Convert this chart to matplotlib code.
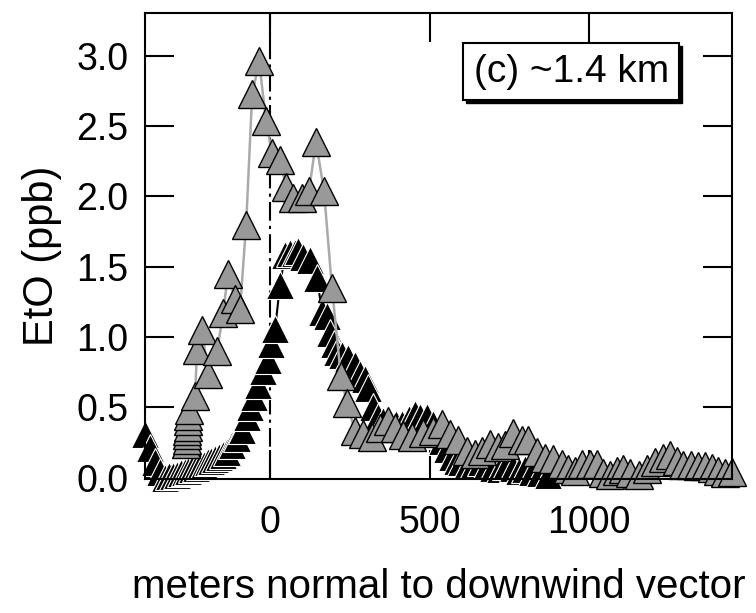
import matplotlib
matplotlib.use("Agg")
import matplotlib.pyplot as plt
from matplotlib.patches import Rectangle

plt.rcParams["font.family"] = ["Liberation Sans", "DejaVu Sans"]

# black series (distance normal to downwind vector, EtO ppb)
black_x = [-392, -376, -360, -345, -329, -316, -304, -292, -280, -268, -256, -244,
           -232, -220, -208, -196, -184, -172, -160, -148, -135, -119, -103, -88,
           -72, -63, -50, -37, -22, -8, 4, 16, 31, 47, 63, 78, 88, 103, 125, 147,
           163, 178, 188, 200, 210, 225, 245, 266, 282, 298, 307, 323, 339, 355,
           375, 395, 414, 435, 455, 470, 492, 510, 525, 540, 555, 570, 585, 600,
           620, 640, 660, 680, 700, 720, 740, 760, 780, 800, 820, 845, 870]
black_y = [0.31, 0.21, 0.11, 0.04, 0.00, 0.01, 0.01, 0.02, 0.03, 0.04, 0.05, 0.06,
           0.07, 0.08, 0.09, 0.11, 0.12, 0.13, 0.15, 0.16, 0.18, 0.23, 0.28, 0.34,
           0.43, 0.50, 0.57, 0.66, 0.76, 0.84, 0.95, 1.06, 1.37, 1.58, 1.60, 1.60, 1.61, 1.57, 1.55, 1.42,
           1.18, 1.15, 1.03, 0.95, 0.89, 0.87, 0.85, 0.80, 0.74, 0.70, 0.64, 0.50, 0.43, 0.40,
           0.39, 0.38, 0.38, 0.42, 0.45, 0.43, 0.43, 0.38, 0.32, 0.26, 0.20, 0.15, 0.12, 0.11,
           0.10, 0.10, 0.11, 0.09, 0.07, 0.06, 0.08, 0.07, 0.05, 0.06, 0.04, 0.03, 0.02]

# gray series
gray_x = [-262, -261, -260, -259, -258, -257, -256, -254, -235, -229, -213, -194,
          -166, -147, -132, -110, -94, -75, -56, -34, -13, 6, 31, 50, 72, 100, 122,
          144, 169, 194, 222, 241, 266, 292, 320, 345, 370, 392, 417, 445, 480, 511,
          539, 564, 589, 617, 643, 664, 690, 715, 737, 762, 789, 809, 836, 862, 887,
          915, 934, 956, 978, 1003, 1025, 1044, 1066, 1088, 1107, 1129, 1155, 1182,
          1207, 1232, 1254, 1276, 1295, 1320, 1342, 1364, 1385, 1404, 1426, 1448]
gray_y = [0.24, 0.27, 0.30, 0.33, 0.36, 0.40, 0.44, 0.48, 0.58, 0.91, 1.05, 0.74,
          0.90, 1.17, 1.45, 1.27, 1.20, 1.80, 2.73, 2.96, 2.54, 2.31, 2.26, 2.07, 1.99, 1.99, 2.04,
          2.39, 2.04, 1.35, 0.72, 0.53, 0.33, 0.31, 0.29, 0.35, 0.40, 0.35, 0.30, 0.29, 0.32, 0.33,
          0.38, 0.31, 0.27, 0.19, 0.17, 0.19, 0.24, 0.22, 0.23, 0.32, 0.27, 0.27, 0.18, 0.14, 0.13,
          0.10, 0.06, 0.05, 0.10, 0.10, 0.10, 0.03, 0.02, 0.05, 0.06, 0.03, 0.02, 0.06,
          0.11, 0.14, 0.16, 0.12, 0.09, 0.09, 0.08, 0.08, 0.07, 0.05, 0.03, 0.04]

fig = plt.figure(figsize=(7.56, 6.13), dpi=100)
ax = fig.add_axes([0.1918, 0.2186, 0.7765, 0.7602])

ax.axvline(0, color="black", lw=1.5, dashes=[9, 2.5, 1.5, 2.5], zorder=1)

ax.plot(black_x, black_y, "-", color="black", lw=1.5, zorder=2)
ax.plot(black_x, black_y, "^", ms=20, mfc="black", mec="white", mew=0.8,
        ls="none", zorder=3, clip_on=False)
ax.plot(gray_x, gray_y, "-", color="#aaaaaa", lw=1.8, zorder=4)
ax.plot(gray_x, gray_y, "^", ms=20, mfc="#999999", mec="black", mew=1.0,
        ls="none", zorder=5, clip_on=False)

ax.set_xlim(-392, 1448)
ax.set_ylim(-0.01, 3.305)
ax.set_xticks([0, 500, 1000])
ax.set_yticks([0.0, 0.5, 1.0, 1.5, 2.0, 2.5, 3.0])
ax.set_yticklabels(["0.0", "0.5", "1.0", "1.5", "2.0", "2.5", "3.0"])
ax.tick_params(direction="in", length=21, width=1.5, labelsize=27,
               top=True, right=True)
ax.tick_params(axis="y", pad=12)
ax.tick_params(axis="x", pad=19)
for s in ax.spines.values():
    s.set_linewidth(1.5)
    s.set_zorder(6)

ax.set_ylabel("EtO (ppb)", fontsize=30)
ax.yaxis.set_label_coords(-0.141, 0.48)
ax.set_xlabel("meters normal to downwind vector", fontsize=29)
ax.xaxis.set_label_coords(0.5, -0.19)

# annotation box with drop shadow
ax.add_patch(Rectangle((0.547, 0.806), 0.368, 0.123, transform=ax.transAxes,
                       facecolor="black", edgecolor="black", zorder=7, clip_on=False))
ax.add_patch(Rectangle((0.542, 0.813), 0.368, 0.123, transform=ax.transAxes,
                       facecolor="white", edgecolor="black", lw=1.5, zorder=8, clip_on=False))
ax.text(0.726, 0.873, "(c) ~1.4 km", transform=ax.transAxes, fontsize=28,
        ha="center", va="center", zorder=9)

fig.savefig("out.png", dpi=100)
